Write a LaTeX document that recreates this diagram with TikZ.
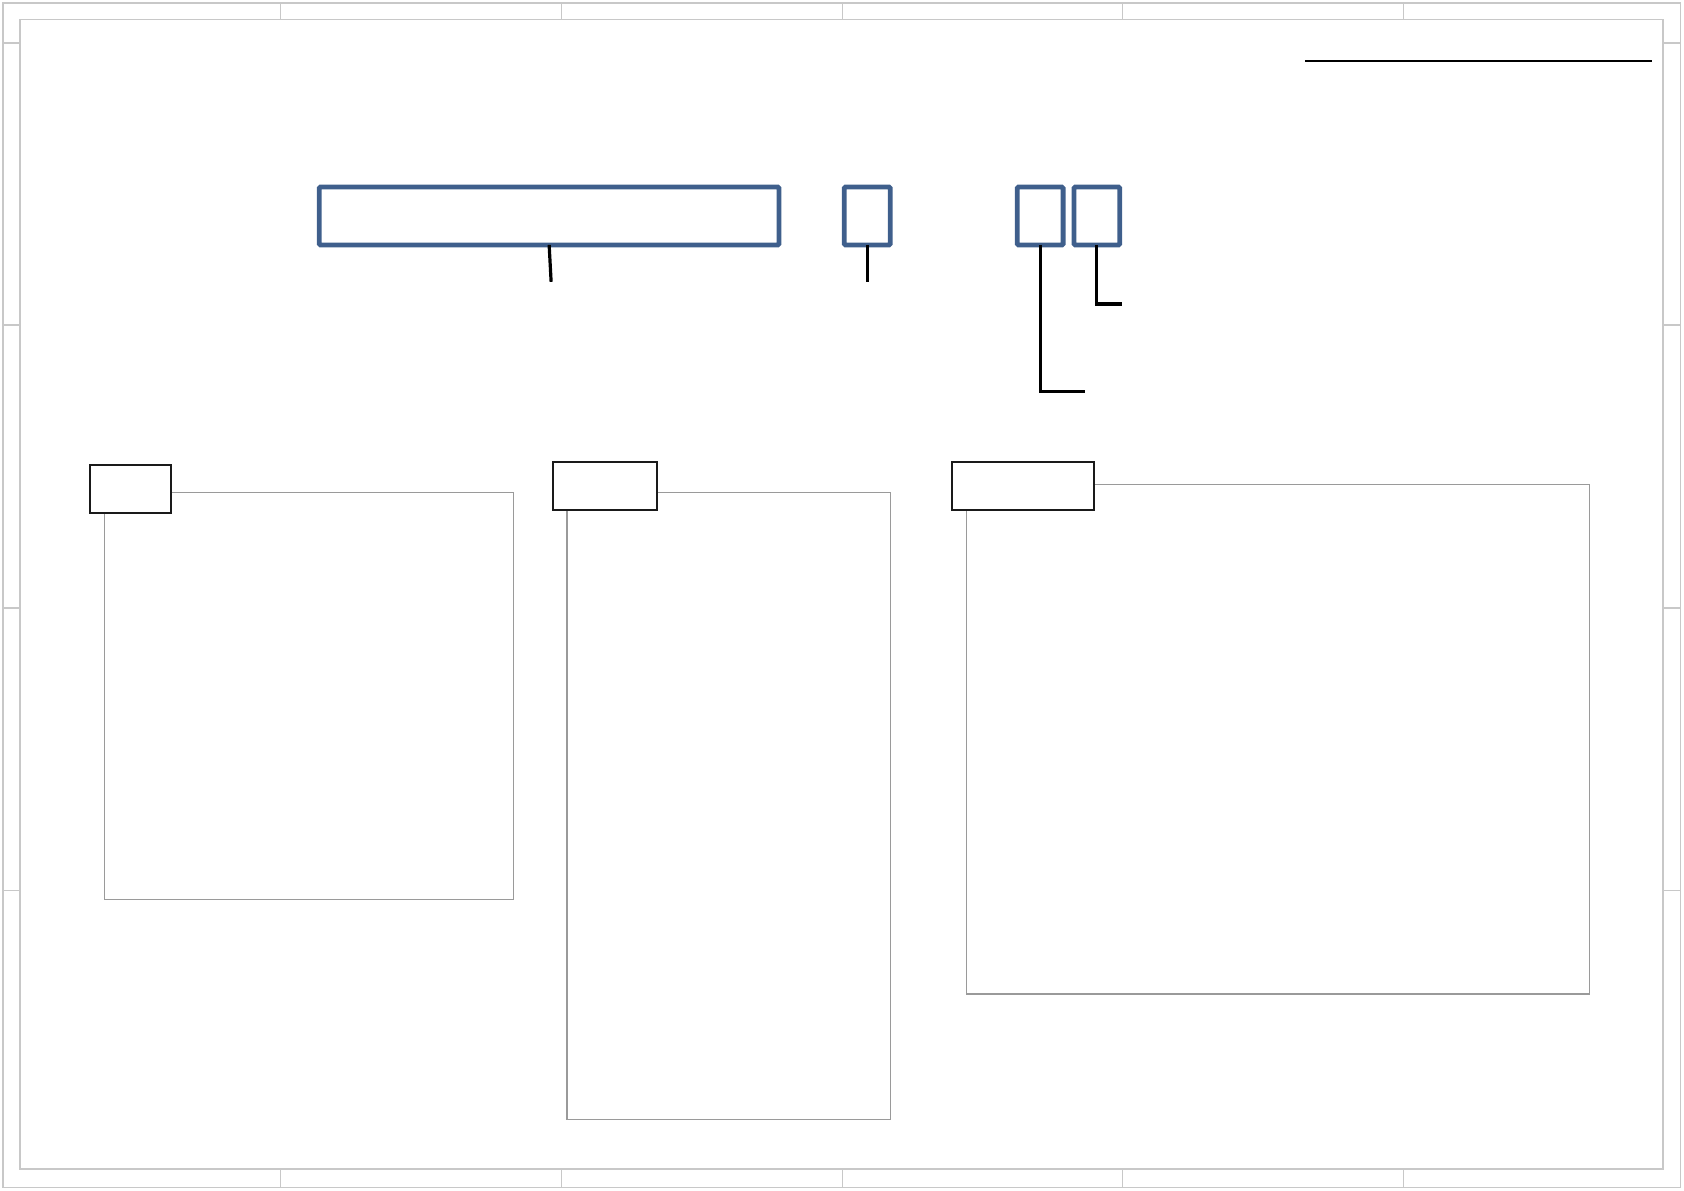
\documentclass[tikz,border=0pt]{standalone}
\usepackage{xcolor}
\usepackage{tikz}
\usetikzlibrary{calc,positioning}
\definecolor{frame}{HTML}{C8C8C8}
\definecolor{panel}{HTML}{9A9A9A}
\definecolor{field}{HTML}{3F5F8C}
\definecolor{ink}{HTML}{1A1A1A}
\tikzset{
  sheet/.style={draw=frame,line width=.7pt},
  panelframe/.style={draw=panel,line width=.6pt},
  fieldbox/.style={draw=field,line width=2.4pt,rounded corners=.6pt,inner sep=0pt,outer sep=0pt,minimum height=10.2mm},
  tagbox/.style={draw=ink,fill=white,line width=1pt,inner sep=0pt,outer sep=0pt,minimum height=8.4mm},
  leader/.style={draw=black,line width=1.6pt}
}
\begin{document}
\begin{tikzpicture}[x=1mm,y=-1mm]
  \useasboundingbox (0,0) rectangle (297,210);
  % drawing sheet with zone ticks
  \draw[sheet] (0.5,0.5) rectangle (296.4,209.4);
  \draw[sheet] (3.5,3.4) rectangle (293.3,206.2);
  \foreach \x in {49.5,99,148.6,198,247.5} {
    \draw[sheet] (\x,0.5)--(\x,3.4); \draw[sheet] (\x,206.2)--(\x,209.4);
  }
  \foreach \y in {7.6,57.3,107.2,157.1} {
    \draw[sheet] (0.5,\y)--(3.5,\y); \draw[sheet] (293.3,\y)--(296.4,\y);
  }
  \draw[black,line width=1.2pt] (230.2,10.8)--(291.4,10.8);

  % title fields
  \node[fieldbox,minimum width=81.1mm] (name) at (96.85,38.1) {};
  \node[fieldbox,minimum width=8.1mm] (rev) at (152.95,38.1) {};
  \node[fieldbox,minimum width=8.1mm] (sheetno) at (183.45,38.1) {};
  \node[fieldbox,minimum width=8.1mm] (sheetof) at (193.45,38.1) {};
  \coordinate (nameend) at (97.2,49.7);
  \coordinate (revend) at (152.95,49.7);
  \coordinate (noend) at (191.4,69.1);
  \coordinate (ofend) at (197.9,53.6);
  \draw[leader] (name.south)--(nameend);
  \draw[leader] (rev.south)--(revend);
  \draw[leader] (sheetno.south)|-(noend);
  \draw[leader] (sheetof.south)|-(ofend);

  % panels
  \draw[panelframe] (18.5,86.8) rectangle (90.5,158.6);
  \draw[panelframe] (100.0,86.8) rectangle (157.0,197.5);
  \draw[panelframe] (170.4,85.4) rectangle (280.3,175.3);
  \node[tagbox,minimum width=14.3mm] (tagA) at (23.05,86.25) {};
  \node[tagbox,minimum width=18.4mm] (tagB) at (106.7,85.7) {};
  \node[tagbox,minimum width=25.1mm] (tagC) at (180.45,85.7) {};
\end{tikzpicture}
\end{document}
